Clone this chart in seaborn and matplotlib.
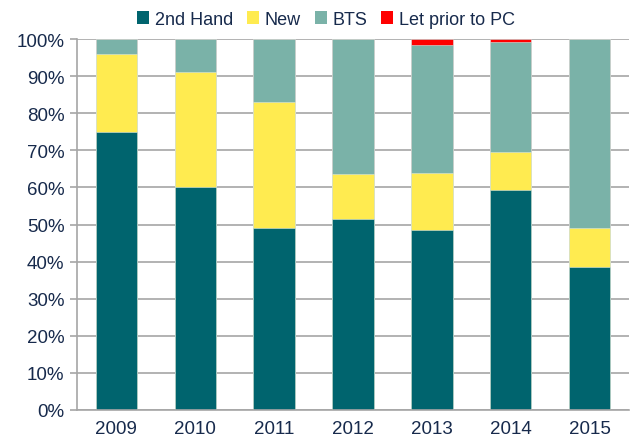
import numpy as np
import pandas as pd
import matplotlib
matplotlib.use("Agg")
import matplotlib.pyplot as plt
import seaborn as sns
from matplotlib.patches import Patch
from matplotlib.ticker import PercentFormatter

years = ["2009", "2010", "2011", "2012", "2013", "2014", "2015"]
second_hand = [75, 60, 49, 51.5, 48.6, 59.4, 38.5]
new = [21, 31, 34, 12.2, 15.4, 10.2, 10.6]
bts = [4, 9, 17, 36.3, 34.4, 29.7, 50.9]
let_prior = [0, 0, 0, 0, 1.6, 0.7, 0]

series = ["2nd Hand", "New", "BTS", "Let prior to PC"]
colors = ["#00646e", "#ffeb50", "#7ab2a8", "#ff0000"]
text_color = "#172a4c"

sns.set_theme(style="white")
plt.rcParams["font.family"] = ["Liberation Sans", "DejaVu Sans"]

df = pd.DataFrame({"year": years, "2nd Hand": second_hand, "New": new,
                   "BTS": bts, "Let prior to PC": let_prior})
cum = df[series].cumsum(axis=1)

fig = plt.figure(figsize=(6.33, 4.39), dpi=100)
ax = fig.add_axes([0.1216, 0.0638, 0.872, 0.845])

# draw the cumulative totals from top down so each segment shows
for name, col in reversed(list(zip(series, colors))):
    sns.barplot(x=df["year"], y=cum[name], color=col, width=0.525,
                saturation=1, ax=ax, zorder=2, linewidth=0.4, edgecolor="#d8e6e3")

ax.set_ylim(0, 100)
ax.set_xlim(-0.5, 6.5)
ax.yaxis.set_major_locator(plt.MultipleLocator(10))
ax.yaxis.set_major_formatter(PercentFormatter(decimals=0))
ax.set_xlabel("")
ax.set_ylabel("")
ax.grid(axis="y", color="#a6a6a6", linewidth=1.2, zorder=0)
ax.set_axisbelow(True)

for s in ["top", "right"]:
    ax.spines[s].set_visible(False)
for s in ["left", "bottom"]:
    ax.spines[s].set_color("#a6a6a6")
    ax.spines[s].set_linewidth(1.2)

ax.set_xticks(np.arange(-0.5, 7, 1), minor=True)
ax.tick_params(axis="x", which="major", length=0, labelsize=13.5,
               colors=text_color, pad=7)
ax.tick_params(axis="x", which="minor", length=5, color="#a6a6a6", width=1.2)
ax.tick_params(axis="y", length=5, color="#a6a6a6", width=1.2, left=True,
               labelsize=13.5, labelcolor=text_color, pad=4)

handles = [Patch(facecolor=c, edgecolor="none") for c in colors]
fig.legend(handles, series, loc="upper center", bbox_to_anchor=(0.515, 1.01),
           ncol=4, frameon=False, fontsize=13, handlelength=0.65,
           handleheight=0.65, handletextpad=0.3, columnspacing=0.8,
           labelcolor=text_color)

fig.savefig("out.png", dpi=100)
